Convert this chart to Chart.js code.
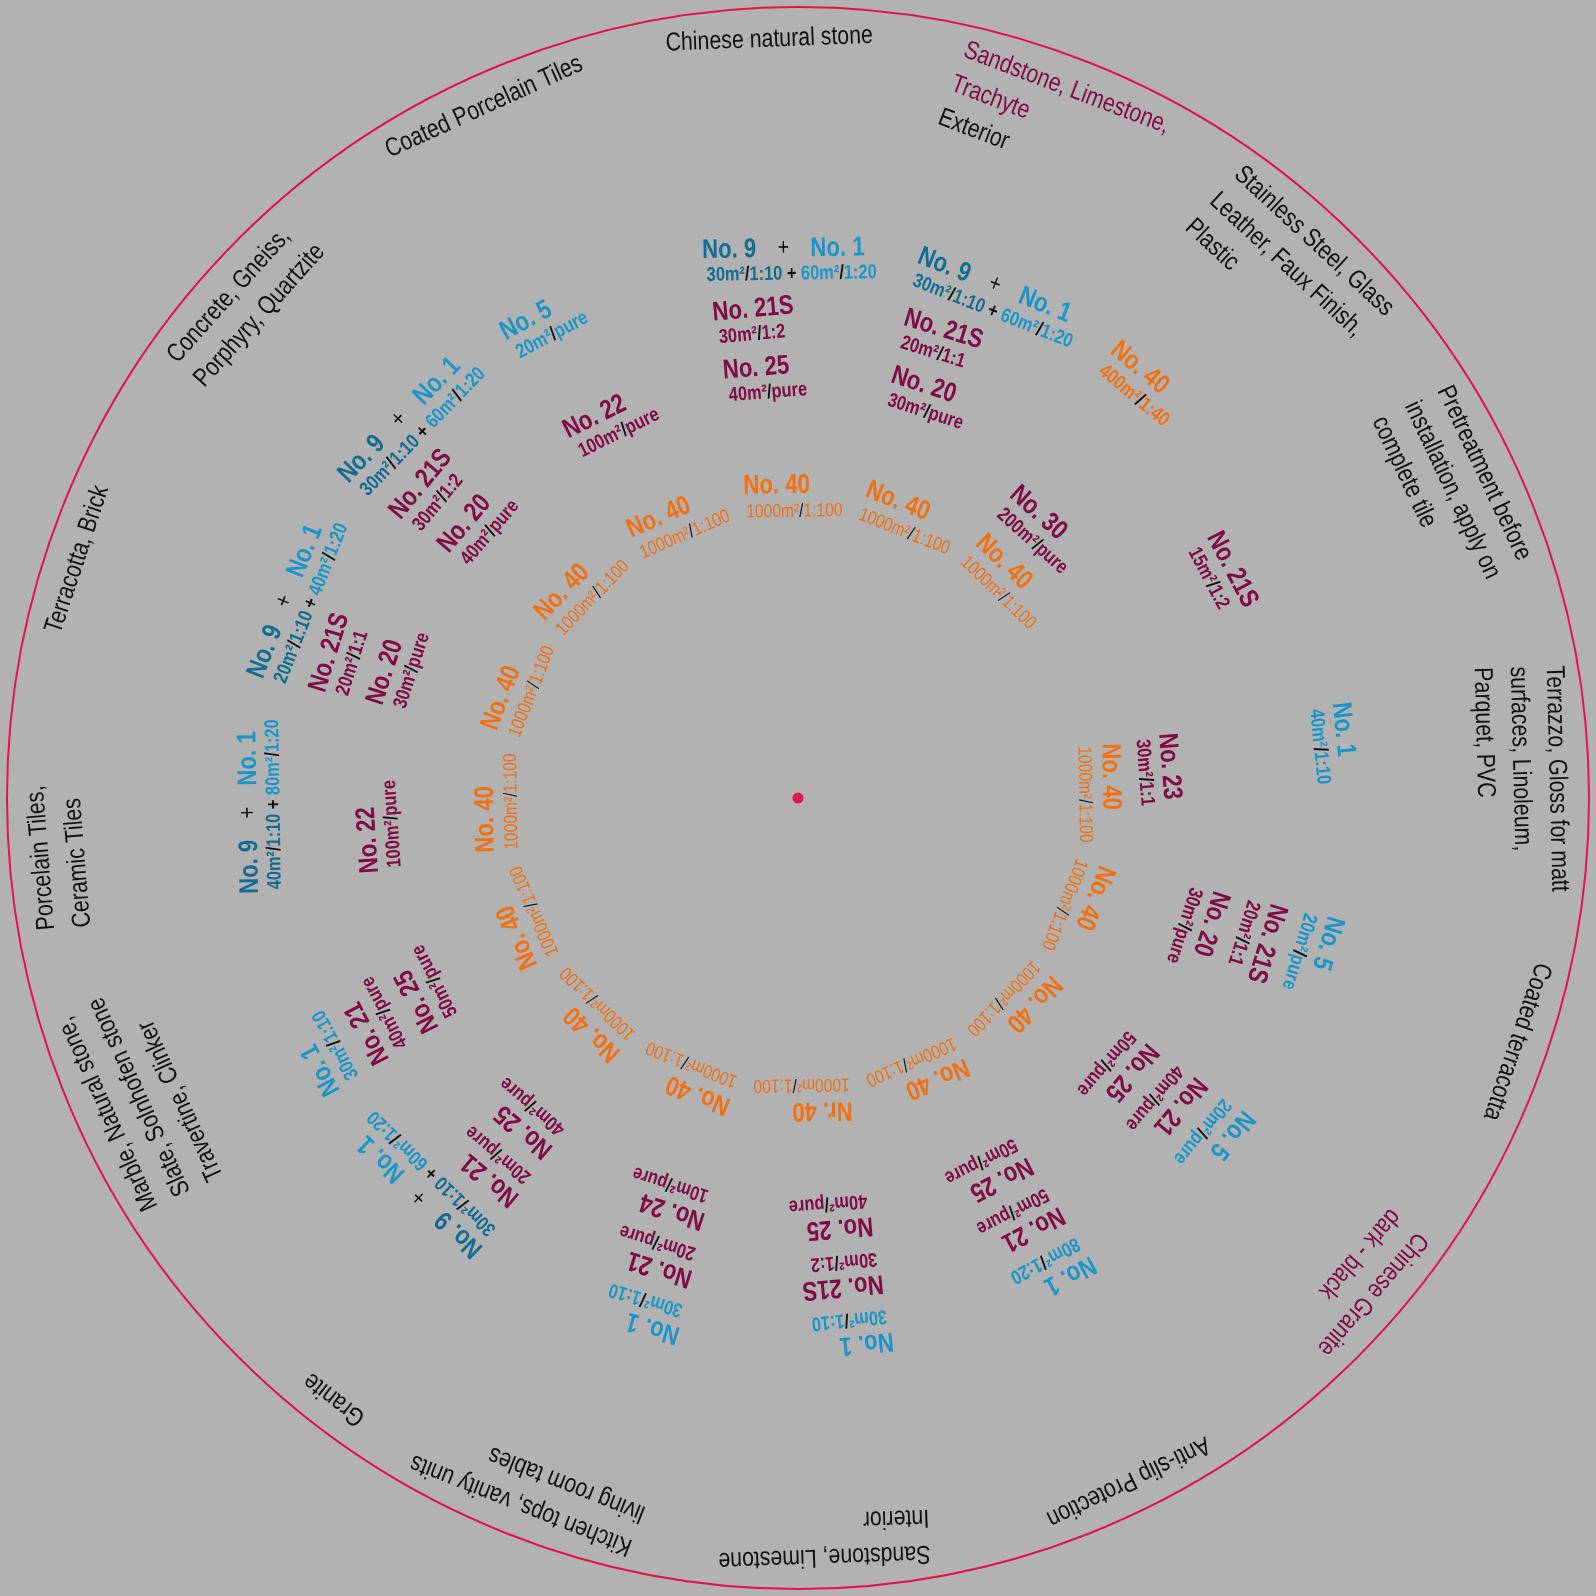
<!DOCTYPE html>
<html>
<head>
<meta charset="utf-8">
<script src="https://cdn.jsdelivr.net/npm/chart.js@4.4.0/dist/chart.umd.min.js"></script>
<style>
  html, body { margin: 0; padding: 0; background: #b2b2b2; }
  #wrap { width: 1596px; height: 1596px; }
</style>
</head>
<body>
<div id="wrap"><canvas id="rosette"></canvas></div>
<script>
// 16 application areas, clockwise from the top
const categories = [
    ['Chinese natural stone'],
    ['Sandstone, Limestone,', 'Trachyte', 'Exterior'],
    ['Stainless Steel, Glass', 'Leather, Faux Finish,', 'Plastic'],
    ['Pretreatment before', 'installation, apply on', 'complete tile'],
    ['Terrazzo, Gloss for matt', 'surfaces, Linoleum,', 'Parquet, PVC'],
    ['Coated terracotta'],
    ['Chinese Granite', 'dark - black'],
    ['Anti-slip Protection'],
    ['Sandstone, Limestone', 'Interior'],
    ['Kitchen tops, vanity units', 'living room tables'],
    ['Granite'],
    ['Marble, Natural stone,', 'Slate, Solnhofen stone', 'Travertine, Clinker'],
    ['Porcelain Tiles,', 'Ceramic Tiles'],
    ['Terracotta, Brick'],
    ['Concrete, Gneiss,', 'Porphyry, Quartzite'],
    ['Coated Porcelain Tiles']
];
const sectorShare = [1, 1, 1, 1, 1, 1, 1, 1, 1, 1, 1, 1, 1, 1, 1, 1];

// products, from the outer ring inwards
const ring1Names = ['No. 9 + No. 1', 'No. 9 + No. 1', 'No. 40', null, 'No. 1', 'No. 5', 'No. 5', 'No. 1',
    'No. 1', 'No. 1', 'No. 9 + No. 1', 'No. 1', 'No. 9 + No. 1', 'No. 9 + No. 1', 'No. 9 + No. 1', 'No. 5'];
const ring1Doses = ['30m²/1:10 + 60m²/1:20', '30m²/1:10 + 60m²/1:20', '400m²/1:40', null, '40m²/1:10', '20m²/pure',
    '20m²/pure', '80m²/1:20', '30m²/1:10', '30m²/1:10', '30m²/1:10 + 60m²/1:20', '30m²/1:10',
    '40m²/1:10 + 80m²/1:20', '20m²/1:10 + 40m²/1:20', '30m²/1:10 + 60m²/1:20', '20m²/pure'];

const ring2Names = ['No. 21S', 'No. 21S', null, 'No. 21S', null, 'No. 21S', 'No. 21', 'No. 21',
    'No. 21S', 'No. 21', 'No. 21', 'No. 21', null, 'No. 21S', 'No. 21S', null];
const ring2Doses = ['30m²/1:2', '20m²/1:1', null, '15m²/1:2', null, '20m²/1:1', '40m²/pure', '50m²/pure',
    '30m²/1:2', '20m²/pure', '20m²/pure', '40m²/pure', null, '20m²/1:1', '30m²/1:2', null];

const ring3Names = ['No. 25', 'No. 20', null, null, null, 'No. 20', 'No. 25', 'No. 25',
    'No. 25', 'No. 24', 'No. 25', 'No. 25', 'No. 22', 'No. 20', 'No. 20', 'No. 22'];
const ring3Doses = ['40m²/pure', '30m²/pure', null, null, null, '30m²/pure', '50m²/pure', '50m²/pure',
    '40m²/pure', '10m²/pure', '40m²/pure', '50m²/pure', '100m²/pure', '30m²/pure', '40m²/pure', '100m²/pure'];

const ring4Names = [null, null, 'No. 30', null, 'No. 23', null, null, null,
    null, null, null, null, null, null, null, null];
const ring4Doses = [null, null, '200m²/pure', null, '30m²/1:1', null, null, null,
    null, null, null, null, null, null, null, null];

const innerNames = ['No. 40', 'No. 40', 'No. 40', null, 'No. 40', 'No. 40', 'No. 40', 'No. 40',
    'Nr. 40', 'No. 40', 'No. 40', 'No. 40', 'No. 40', 'No. 40', 'No. 40', 'No. 40'];
const innerDoses = ['1000m²/1:100', '1000m²/1:100', '1000m²/1:100', null, '1000m²/1:100', '1000m²/1:100',
    '1000m²/1:100', '1000m²/1:100', '1000m²/1:100', '1000m²/1:100', '1000m²/1:100', '1000m²/1:100',
    '1000m²/1:100', '1000m²/1:100', '1000m²/1:100', '1000m²/1:100'];

// styles
const FONT = "'Liberation Sans', Arial, sans-serif";
const SX = 0.82;   // horizontal squeeze, gives a condensed face
const MAROON = '#800b46', TEAL = '#136d93', BLUE = '#1b96c9', ORANGE = '#f07013';
const CRIMSON = '#e3134f', INK = '#111111';
const highlightLines = { 1: 2, 6: 2 };   // leading lines printed in maroon
const LEFT_INSET = 1.25 * Math.PI / 180; // text starts just after the sector edge

const productFonts = { main: 'bold 27px ' + FONT, plus: '24px ' + FONT, sub: 'bold 20px ' + FONT, indent: 5, subDy: 25 };
const innerFonts = { main: 'bold 27px ' + FONT, plus: '24px ' + FONT, sub: '19px ' + FONT, indent: 3, subDy: 26 };

function productColor(name) {
    if (name.indexOf('No. 9') === 0) return TEAL;
    if (name === 'No. 1' || name === 'No. 5') return BLUE;
    if (name.indexOf('40') > -1) return ORANGE;
    return MAROON;
}

function layoutProduct(ctx, nameStr, doseStr, f) {
    const names = nameStr.split(' + ');
    const doses = doseStr.split(' + ');
    const items = [];
    const starts = [];
    ctx.font = f.sub;
    let x = f.indent;
    doses.forEach(function (d, k) {
        if (k > 0) {
            items.push({ t: ' + ', c: INK, x: x, y: f.subDy, font: f.sub });
            x += ctx.measureText(' + ').width;
        }
        starts.push(x);
        const c = productColor(names[k] || names[0]);
        const bits = d.split('/');
        [[bits[0], c], ['/', INK], [bits[1], c]].forEach(function (b) {
            items.push({ t: b[0], c: b[1], x: x, y: f.subDy, font: f.sub });
            x += ctx.measureText(b[0]).width;
        });
    });
    let right = x;
    ctx.font = f.main;
    items.push({ t: names[0], c: productColor(names[0]), x: 0, y: 0, font: f.main });
    let end0 = ctx.measureText(names[0]).width;
    right = Math.max(right, end0);
    if (names.length > 1) {
        const x1 = starts[1] + 12;
        items.push({ t: names[1], c: productColor(names[1]), x: x1, y: 0, font: f.main });
        right = Math.max(right, x1 + ctx.measureText(names[1]).width);
        ctx.font = f.plus;
        const pw = ctx.measureText('+').width;
        items.push({ t: '+', c: INK, x: (end0 + x1) / 2 - pw / 2, y: -1, font: f.plus });
    }
    return { items: items, width: right };
}

function placeBlock(ctx, arc, r, block) {
    const w = block.width * SX;
    const a = arc.startAngle + LEFT_INSET + (w / 2) / r;
    ctx.save();
    ctx.translate(arc.x + r * Math.cos(a), arc.y + r * Math.sin(a));
    ctx.rotate(a + Math.PI / 2);
    ctx.scale(SX, 1);
    block.items.forEach(function (it) {
        ctx.font = it.font;
        ctx.fillStyle = it.c;
        ctx.fillText(it.t, it.x - block.width / 2, it.y);
    });
    ctx.restore();
}

const rosettePlugin = {
    id: 'rosette',
    afterDatasetsDraw(chart) {
        const ctx = chart.ctx;
        ctx.save();
        ctx.textBaseline = 'middle';
        ctx.textAlign = 'left';

        const outer = chart.getDatasetMeta(0).data;
        const p0 = outer[0].getProps(['x', 'y', 'outerRadius'], true);
        ctx.strokeStyle = CRIMSON;
        ctx.lineWidth = 2;
        ctx.beginPath();
        ctx.arc(p0.x, p0.y, p0.outerRadius, 0, Math.PI * 2);
        ctx.stroke();
        ctx.fillStyle = CRIMSON;
        ctx.beginPath();
        ctx.arc(p0.x, p0.y, 5.5, 0, Math.PI * 2);
        ctx.fill();

        // application areas
        const catFont = '26px ' + FONT;
        outer.forEach(function (el, i) {
            const arc = el.getProps(['x', 'y', 'startAngle', 'endAngle', 'innerRadius', 'outerRadius'], true);
            ctx.font = catFont;
            const lines = categories[i];
            let w = 0;
            lines.forEach(function (l) { w = Math.max(w, ctx.measureText(l).width); });
            const items = lines.map(function (l, k) {
                return { t: l, c: k < (highlightLines[i] || 0) ? MAROON : INK, x: 0, y: k * 36, font: catFont };
            });
            placeBlock(ctx, arc, arc.outerRadius - 32, { items: items, width: w });
        });

        // products
        for (let d = 1; d < chart.data.datasets.length; d++) {
            const ds = chart.data.datasets[d];
            chart.getDatasetMeta(d).data.forEach(function (el, i) {
                if (!ds.names[i]) return;
                const arc = el.getProps(['x', 'y', 'startAngle', 'endAngle', 'innerRadius', 'outerRadius'], true);
                const block = layoutProduct(ctx, ds.names[i], ds.doses[i], ds.inner ? innerFonts : productFonts);
                placeBlock(ctx, arc, (arc.innerRadius + arc.outerRadius) / 2, block);
            });
        }
        ctx.restore();
    }
};

function ring(weight, names, doses, inner) {
    return {
        data: sectorShare.slice(),
        weight: weight,
        names: names,
        doses: doses,
        inner: inner,
        backgroundColor: 'rgba(0,0,0,0)',
        borderWidth: 0
    };
}

new Chart(document.getElementById('rosette'), {
    type: 'doughnut',
    data: {
        labels: categories.map(function (c) { return c.join(' '); }),
        datasets: [
            ring(213, null, null, false),
            ring(58, ring1Names, ring1Doses, false),
            ring(59, ring2Names, ring2Doses, false),
            ring(59, ring3Names, ring3Doses, false),
            ring(59, ring4Names, ring4Doses, false),
            ring(61, innerNames, innerDoses, true)
        ]
    },
    options: {
        responsive: true,
        maintainAspectRatio: false,
        devicePixelRatio: 1,
        animation: false,
        events: [],
        radius: 791,
        cutout: (282 / 791 * 100) + '%',
        rotation: -11.25,
        layout: { padding: 0 },
        plugins: {
            legend: { display: false },
            tooltip: { enabled: false }
        }
    },
    plugins: [rosettePlugin]
});
</script>
</body>
</html>
